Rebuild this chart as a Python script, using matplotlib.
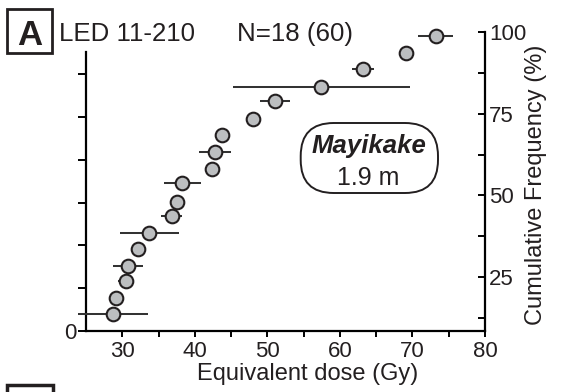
import numpy as np
import matplotlib
matplotlib.use("Agg")
import matplotlib.pyplot as plt
from matplotlib.patches import Rectangle, FancyBboxPatch
from matplotlib.ticker import MultipleLocator, FixedLocator

plt.rcParams['font.family'] = ['Liberation Sans', 'DejaVu Sans']

# equivalent doses (Gy), 1-sigma errors and cumulative frequency (%)
dose = [28.7, 29.2, 30.45, 30.8, 32.1, 33.75, 36.8, 37.6, 38.3,
        42.35, 42.8, 43.7, 48.05, 51.05, 57.45, 63.2, 69.1, 73.2]
dose_err = [4.8, 1.05, 1.0, 2.1, 0.4, 4.1, 1.5, 0.75, 2.55,
            0.4, 2.2, 0.4, 0.4, 2.05, 12.2, 1.5, 0.5, 2.4]
cum_freq = [13.7, 18.5, 23.8, 28.4, 33.6, 38.4, 43.7, 48.1, 53.7,
            58.0, 63.4, 68.5, 73.4, 78.9, 83.3, 88.7, 93.5, 98.8]

sample = "LED 11-210"
n_label = "N=18 (60)"
site = "Mayikake"
depth = "1.9 m"
x_ticks = [30, 40, 50, 60, 70, 80]
y_ticks = [25, 50, 75, 100]

W, H = 573, 392
txt = '#231f20'


def fx(px):
    return px / W


def fy(py):
    return 1 - py / H


fig = plt.figure(figsize=(W / 100, H / 100), dpi=100)
ax = fig.add_axes([fx(86), fy(331), fx(485) - fx(86), fy(32) - fy(331)])
ax2 = ax.twinx()

# left (count) axis, only 0 labelled
ax.set_xlim(25, 80)
ax.set_ylim(0, 6.99)
ax.spines['top'].set_visible(False)
ax.spines['right'].set_visible(False)
ax.spines['left'].set_bounds(0, 6.52)
ax.spines['left'].set_linewidth(1.6)
ax.spines['bottom'].set_linewidth(1.6)
ax.yaxis.set_major_locator(FixedLocator(range(7)))
ax.set_yticklabels(['0'] + [''] * 6)
ax.tick_params(axis='y', direction='out', length=6, width=1.4, pad=1,
               labelsize=16, labelcolor=txt)
ax.xaxis.set_major_locator(FixedLocator(x_ticks))
ax.xaxis.set_minor_locator(FixedLocator([35, 45, 55, 65, 75]))
ax.tick_params(axis='x', which='both', direction='out', length=4, width=1.4,
               pad=3, labelsize=16, labelcolor=txt)

# right (cumulative frequency) axis
ax2.set_ylim(8.5, 100)
ax2.spines['top'].set_visible(False)
ax2.spines['left'].set_visible(False)
ax2.spines['bottom'].set_visible(False)
ax2.spines['right'].set_linewidth(1.6)
ax2.yaxis.set_major_locator(FixedLocator(y_ticks))
ax2.yaxis.set_minor_locator(FixedLocator([12.5, 37.5, 62.5, 87.5]))
ax2.tick_params(axis='y', which='both', direction='in', length=5, width=1.4,
                pad=3, labelsize=16, labelcolor=txt)

ax2.errorbar(dose, cum_freq, xerr=dose_err, fmt='o', ms=9.8,
             mfc='#bcbec0', mec='#231f20', mew=1.5, ecolor='#333333',
             elinewidth=1.45, capsize=0, clip_on=False, zorder=3)

# labels
fig.text(fx(307.5), fy(380), "Equivalent dose (Gy)", ha='center',
         va='baseline', fontsize=17, color=txt)
fig.text(fx(525), fy(185), "Cumulative Frequency (%)", rotation=90,
         ha='left', va='center', fontsize=17, color=txt)

fig.text(fx(59), fy(41), sample, ha='left', va='baseline', fontsize=18.6,
         color=txt)
fig.text(fx(237), fy(41), n_label, ha='left', va='baseline', fontsize=18.6,
         color=txt)

# panel letter boxes
fig.add_artist(Rectangle((fx(7), fy(53)), fx(52) - fx(7), fy(9) - fy(53),
                         transform=fig.transFigure, fill=False, lw=2,
                         ec=txt))
fig.text(fx(29.5), fy(45), "A", ha='center', va='baseline', fontsize=25,
         fontweight='bold', color=txt)
fig.add_artist(Rectangle((fx(7), fy(400)), fx(53) - fx(7), fy(385) - fy(400),
                         transform=fig.transFigure, fill=False, lw=2.5,
                         ec=txt, clip_on=False))

# site box
fig.add_artist(FancyBboxPatch((3.007, (H - 193) / 100), 1.373, 0.70,
                              boxstyle="round,pad=0,rounding_size=0.33",
                              transform=fig.dpi_scale_trans, fill=False,
                              lw=1.4, ec=txt))
fig.text(fx(369), fy(153), site, ha='center', va='baseline', fontsize=18.5,
         fontweight='bold', fontstyle='italic', color=txt)
fig.text(fx(368.5), fy(185), depth, ha='center', va='baseline', fontsize=18,
         color=txt)

fig.savefig("out.png", dpi=100)
